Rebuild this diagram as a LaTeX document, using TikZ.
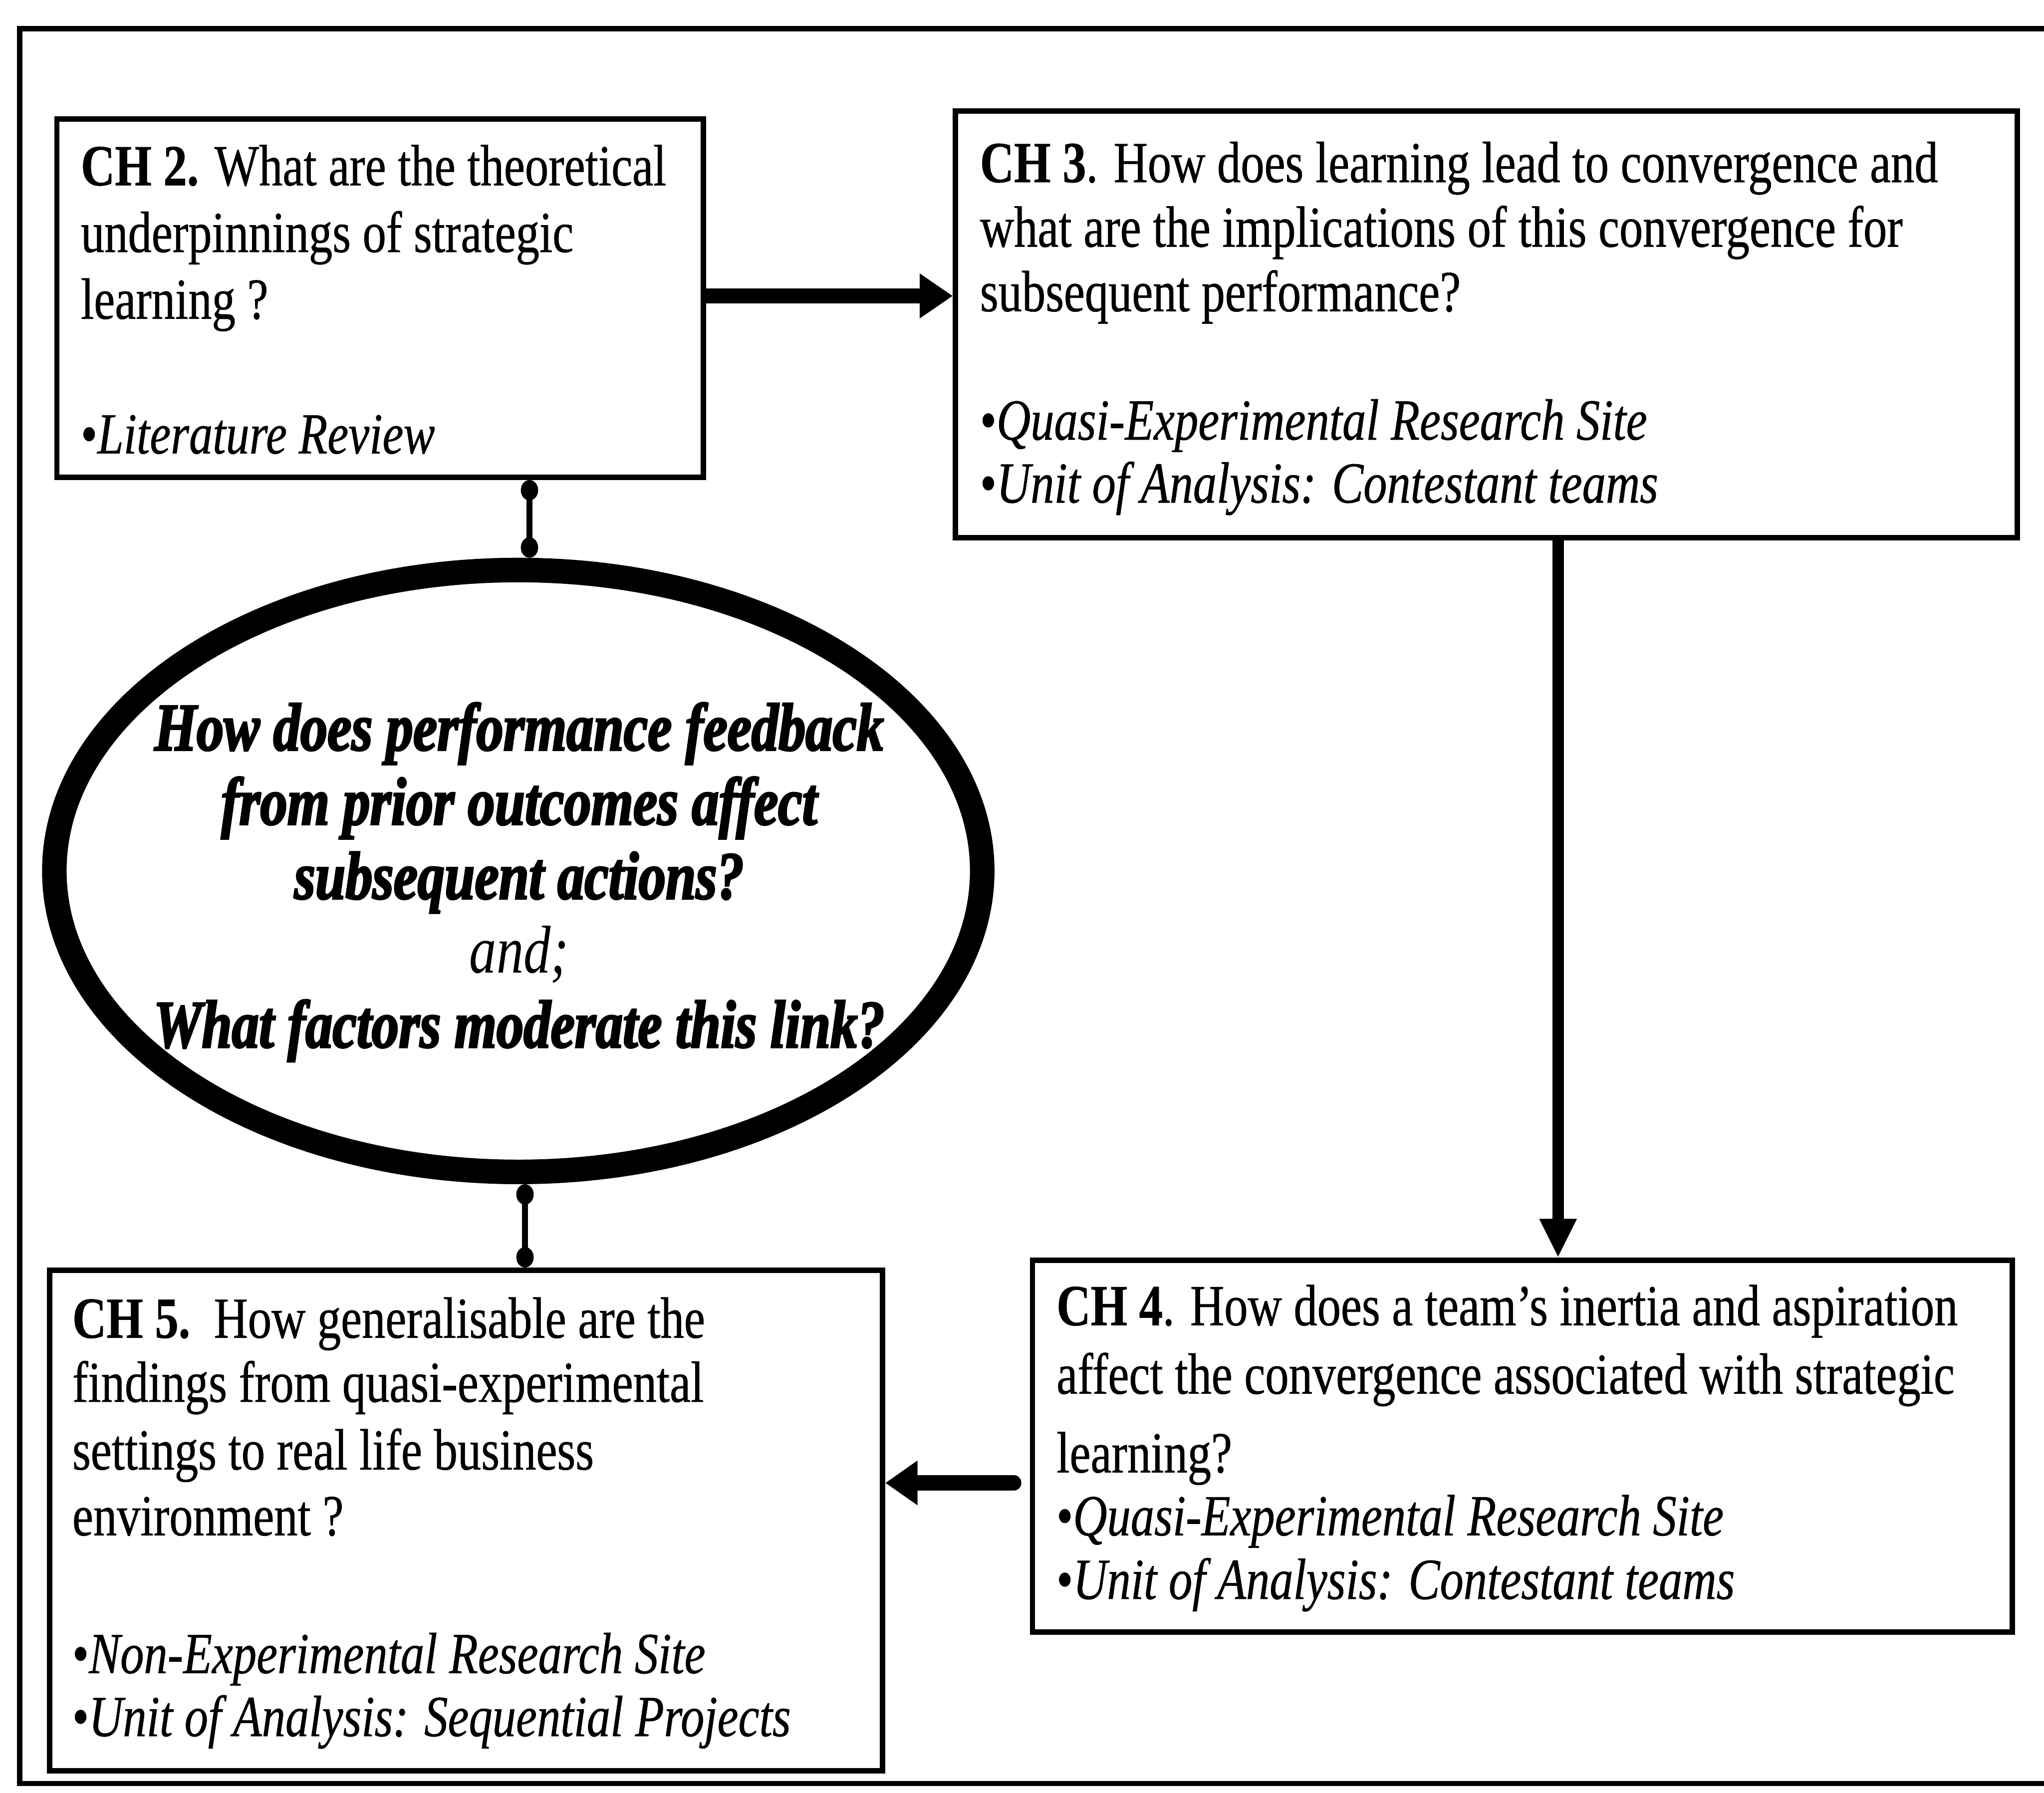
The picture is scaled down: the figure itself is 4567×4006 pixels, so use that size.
\documentclass[tikz,border=0pt]{standalone}
\usepackage{fontspec}
\setmainfont{Liberation Serif}
\newfontfamily\boxfont[FakeStretch=0.81,FakeBold=0.6]{Liberation Serif}
\newfontfamily\ellfont[FakeStretch=0.8,BoldItalicFeatures={FakeBold=2.5}]{Liberation Serif}
\usetikzlibrary{arrows.meta,shapes.geometric,calc}
\begin{document}
\begin{tikzpicture}[x=0.01cm,y=-0.01cm,
  box/.style={draw,line width=3.4pt,rectangle,anchor=north west,inner sep=0},
  boxtext/.style={anchor=north west,inner sep=0,align=left,font=\boxfont\fontsize{37}{40}\selectfont},
  elltext/.style={anchor=north,inner sep=0,align=center,font=\ellfont\fontsize{43}{47.2}\selectfont\bfseries\itshape},
  link/.style={line width=3.7pt,{Circle[length=13pt,width=11pt]}-{Circle[length=13pt,width=11pt]}},
  arrowA/.style={line width=9.4pt,-{Triangle[length=21pt,width=27pt]}},
  arrowB/.style={line width=7.4pt,-{Triangle[length=24.7pt,width=22pt]}},
  arrowC/.style={line width=9.7pt,line cap=round,-{Triangle[length=20.5pt,width=27pt]}},
  frame/.style={line width=3.4pt}
]
\useasboundingbox (0,0) rectangle (4567,4006);
\draw[frame] (4600,64) -- (44,64) -- (44,3985) -- (4600,3985);

\node[box,minimum width=14.44cm,minimum height=8cm] (ch2) at (121,260) {};
\node[box,minimum width=23.71cm,minimum height=9.53cm] (ch3) at (2129,242) {};
\node[box,minimum width=21.88cm,minimum height=8.3cm] (ch4) at (2301,2810) {};
\node[box,minimum width=18.6cm,minimum height=11.18cm] (ch5) at (105,2832) {};
\node[draw,ellipse,line width=15.6pt,minimum width=20.72cm,minimum height=13.44cm,inner sep=0] (ell) at (1158,1946) {};

\node[boxtext] (t2) at (180,323) {\textbf{CH 2.} What are the theoretical\\[2.4pt]
underpinnings of strategic\\[2.4pt]
learning ?\\[45.6pt]
•\textit{Literature Review}};

\node[boxtext] (t3) at (2189,316) {\textbf{CH 3}. How does learning lead to convergence and\\[1pt]
what are the implications of this convergence for\\[1pt]
subsequent performance?\\[41.6pt]
•\textit{Quasi-Experimental Research Site}\\
•\textit{Unit of Analysis: Contestant teams}};

\node[boxtext] (t4) at (2360,2870) {\textbf{CH 4}. How does a team’s inertia and aspiration\\[3.5pt]
affect the convergence associated with strategic\\[10pt]
learning?\\
•\textit{Quasi-Experimental Research Site}\\[0.4pt]
•\textit{Unit of Analysis: Contestant teams}};

\node[boxtext] (t5) at (161,2898) {\textbf{CH 5.}\ \ How generalisable are the\\[0.7pt]
findings from quasi-experimental\\[3pt]
settings to real life business\\[1.8pt]
environment ?\\[47.6pt]
•\textit{Non-Experimental Research Site}\\
•\textit{Unit of Analysis: Sequential Projects}};

\node[elltext] (te) at (1160,1569) {How does performance feedback\\
from prior outcomes affect\\
subsequent actions?\\
{\mdseries and;}\\
What factors moderate this link?};

\coordinate (a1) at ([yshift=0.05cm]ch2.east);
\draw[arrowA] (a1) -- (a1 -| ch3.west);
\coordinate (a2) at ([xshift=1.6cm]ch3.south);
\draw[arrowB] (a2) -- (a2 |- ch4.north);
\coordinate (a3) at ([xshift=-0.36cm,yshift=-0.82cm]ch4.west);
\draw[arrowC] (a3) -- (a3 -| ch5.east);

\coordinate (c1) at ([xshift=0.25cm]ell.north);
\draw[link] (c1 |- ch2.south) -- (c1);
\coordinate (c2) at ([xshift=0.15cm]ell.south);
\draw[link] (c2) -- (c2 |- ch5.north);
\end{tikzpicture}
\end{document}
